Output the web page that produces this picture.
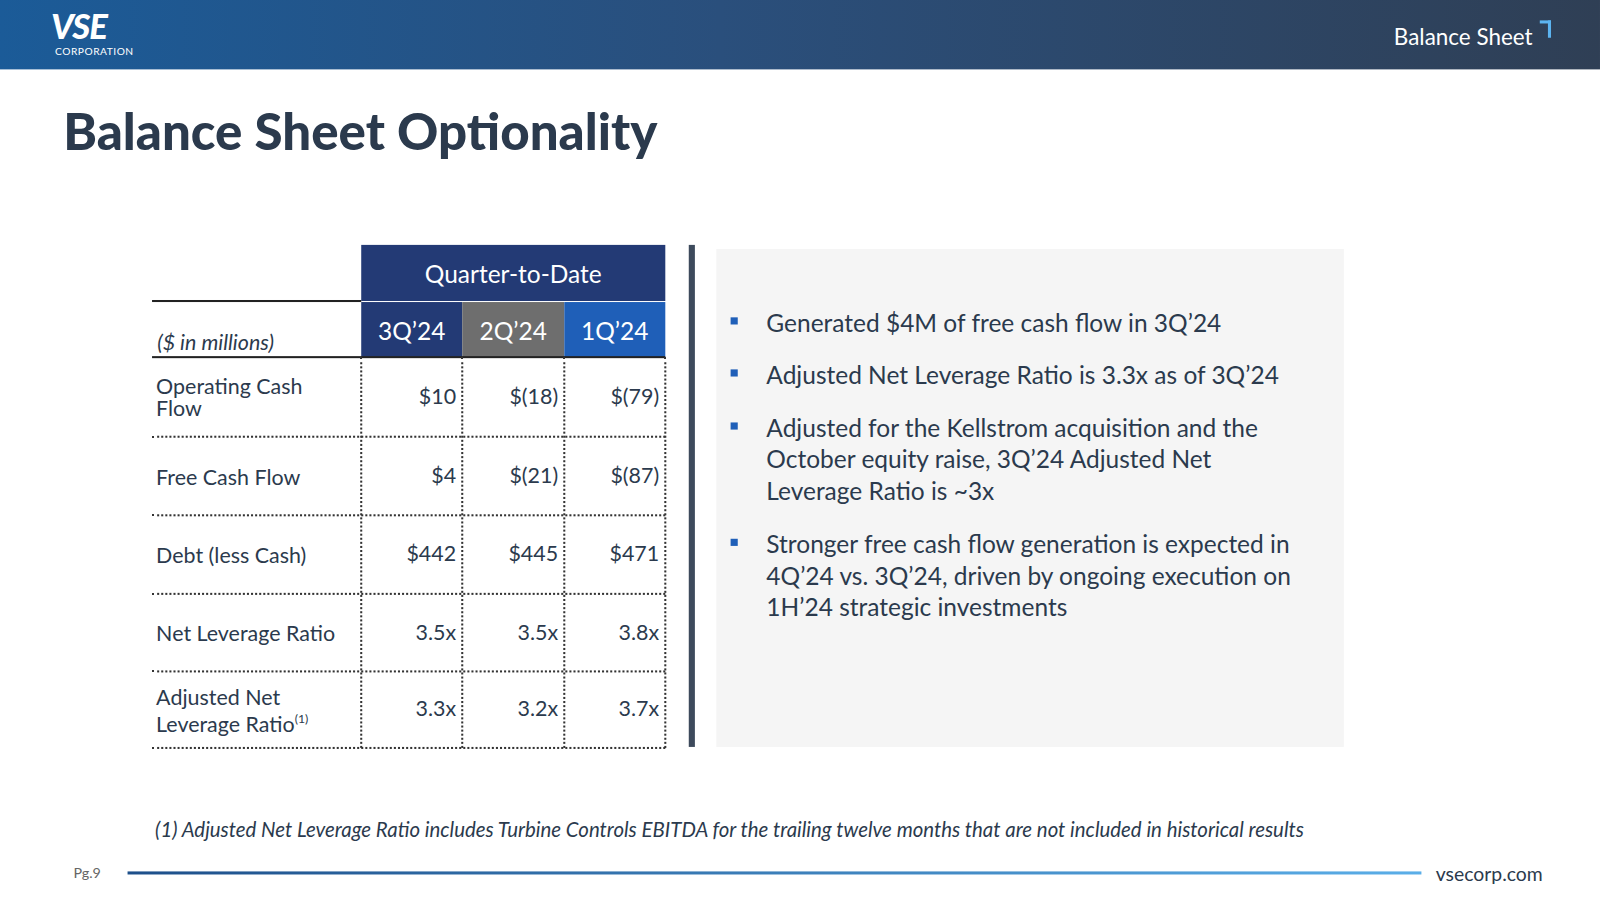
<!DOCTYPE html>
<html>
<head>
<meta charset="utf-8">
<script src="https://cdn.jsdelivr.net/npm/chart.js@4"></script>
<style>
  body { margin:0; width:1600px; height:900px; background:#fff; overflow:hidden; }
  #page { position:relative; width:1568px; height:882px; transform:scale(1.0204); transform-origin:0 0; font-family: Lato, "Open Sans", sans-serif; color:#2b3a4d; }
  .hdr { position:absolute; left:0; top:0; width:1568px; height:68px; background:linear-gradient(90deg,#1b5b98 0%,#2a4f7c 45%,#2f3f55 100%); }
  .logo { position:absolute; left:50px; top:10px; color:#fff; font-weight:900; font-size:34px; letter-spacing:-1px; line-height:30px; height:30px; font-style:italic; }
  .logo2 { position:absolute; left:54px; top:45px; color:#fff; font-size:10px; letter-spacing:0.5px; line-height:11px; }
  .sect { position:absolute; right:66px; top:22px; color:#fff; font-size:22px; }
  .corner { position:absolute; right:48px; top:20px; width:8px; height:14px; border-top:3px solid #5cb4f0; border-right:3px solid #5cb4f0; }
  h1 { position:absolute; left:62px; top:98px; margin:0; font-size:50px; font-weight:900; color:#2b3a4d; }
  .t { position:absolute; font-size:21px; }
  .c { position:absolute; display:flex; align-items:center; justify-content:center; color:#fff; font-size:24px; }
  .vbar { position:absolute; left:675px; top:240px; width:6px; height:492px; background:#3d4a5c; }
  .box { position:absolute; left:702px; top:244px; width:615px; height:488px; background:#f5f5f5; }
  .b { position:absolute; left:751px; width:530px; font-size:24px; line-height:31px; }
  .sq { position:absolute; left:716px; width:7px; height:7px; background:#1f5fb8; }
  .foot { position:absolute; left:152px; top:800px; font-size:20px; font-style:italic; }
  .line { position:absolute; left:125px; top:854px; width:1268px; height:3px; background:linear-gradient(90deg,#1d4f8a,#5aaee8); }
</style>
</head>
<body>
<div id="page">
<div class="hdr"></div>
<div class="logo">VSE</div><div class="logo2">CORPORATION</div>
<div class="sect">Balance Sheet</div><div class="corner"></div>
<h1>Balance Sheet Optionality</h1>
<div id="table"></div>
<div class="vbar"></div>
<div class="box"></div>
<div id="bullets"></div>
<div class="foot">(1) Adjusted Net Leverage Ratio includes Turbine Controls EBITDA for the trailing twelve months that are not included in historical results</div>
<div style="position:absolute;left:72px;top:846px;font-size:14px;color:#666">Pg.9</div>
<div class="line"></div>
<div style="position:absolute;left:1407px;top:844px;font-size:19px;color:#2b3a4d">vsecorp.com</div>
</div>
<script>
// Table data
const quarters = ['3Q\u201924', '2Q\u201924', '1Q\u201924'];
const quarterColors = ['#233a75', '#6e6e6e', '#1f5fb8'];
const rowLabels = ['Operating Cash<br>Flow', 'Free Cash Flow', 'Debt (less Cash)', 'Net Leverage Ratio', 'Adjusted Net<br>Leverage Ratio<sup style="font-size:12px">(1)</sup>'];
const q3Values = ['$10', '$4', '$442', '3.5x', '3.3x'];
const q2Values = ['$(18)', '$(21)', '$445', '3.5x', '3.2x'];
const q1Values = ['$(79)', '$(87)', '$471', '3.8x', '3.7x'];
const bullets = [
  'Generated $4M of free cash flow in 3Q\u201924',
  'Adjusted Net Leverage Ratio is 3.3x as of 3Q\u201924',
  'Adjusted for the Kellstrom acquisition and the October equity raise, 3Q\u201924 Adjusted Net Leverage Ratio is ~3x',
  'Stronger free cash flow generation is expected in 4Q\u201924 vs. 3Q\u201924, driven by ongoing execution on 1H\u201924 strategic investments'
];
const bulletTops = [300, 351, 403, 517];

const colX = [354, 453, 553, 652];
const rowY = [350, 428, 505, 582, 658, 733];
let html = '';
html += `<div class="c" style="left:354px;top:240px;width:298px;height:55px;background:#233a75;">Quarter-to-Date</div>`;
quarters.forEach((q, i) => {
  html += `<div class="c" style="left:${colX[i]}px;top:296px;width:${colX[i+1]-colX[i]}px;height:54px;background:${quarterColors[i]};">${q}</div>`;
});
html += `<div style="position:absolute;left:149px;top:294px;width:205px;height:2px;background:#222"></div>`;
html += `<div style="position:absolute;left:149px;top:349px;width:503px;height:2px;background:#222"></div>`;
html += `<div class="t" style="left:154px;top:322px;font-style:italic">($ in millions)</div>`;
const vals = [q3Values, q2Values, q1Values];
rowLabels.forEach((lab, r) => {
  const top = rowY[r], h = rowY[r+1] - rowY[r];
  html += `<div class="t" style="left:153px;top:${top}px;height:${h}px;display:flex;align-items:center;line-height:22px"><span>${lab}</span></div>`;
  vals.forEach((v, i) => {
    html += `<div class="t" style="left:${colX[i]}px;top:${top}px;width:${colX[i+1]-colX[i]-6}px;height:${h-4}px;display:flex;align-items:center;justify-content:flex-end">${v[r]}</div>`;
  });
  html += `<div style="position:absolute;left:149px;top:${rowY[r+1]-1}px;width:503px;border-top:2px dotted #333"></div>`;
});
colX.forEach(x => {
  html += `<div style="position:absolute;left:${x-1}px;top:350px;height:383px;border-left:2px dotted #333"></div>`;
});
document.getElementById('table').innerHTML = html;

let bh = '';
bullets.forEach((b, i) => {
  bh += `<div class="sq" style="top:${bulletTops[i]+11}px"></div><div class="b" style="top:${bulletTops[i]}px">${b}</div>`;
});
document.getElementById('bullets').innerHTML = bh;
</script>
</body>
</html>
